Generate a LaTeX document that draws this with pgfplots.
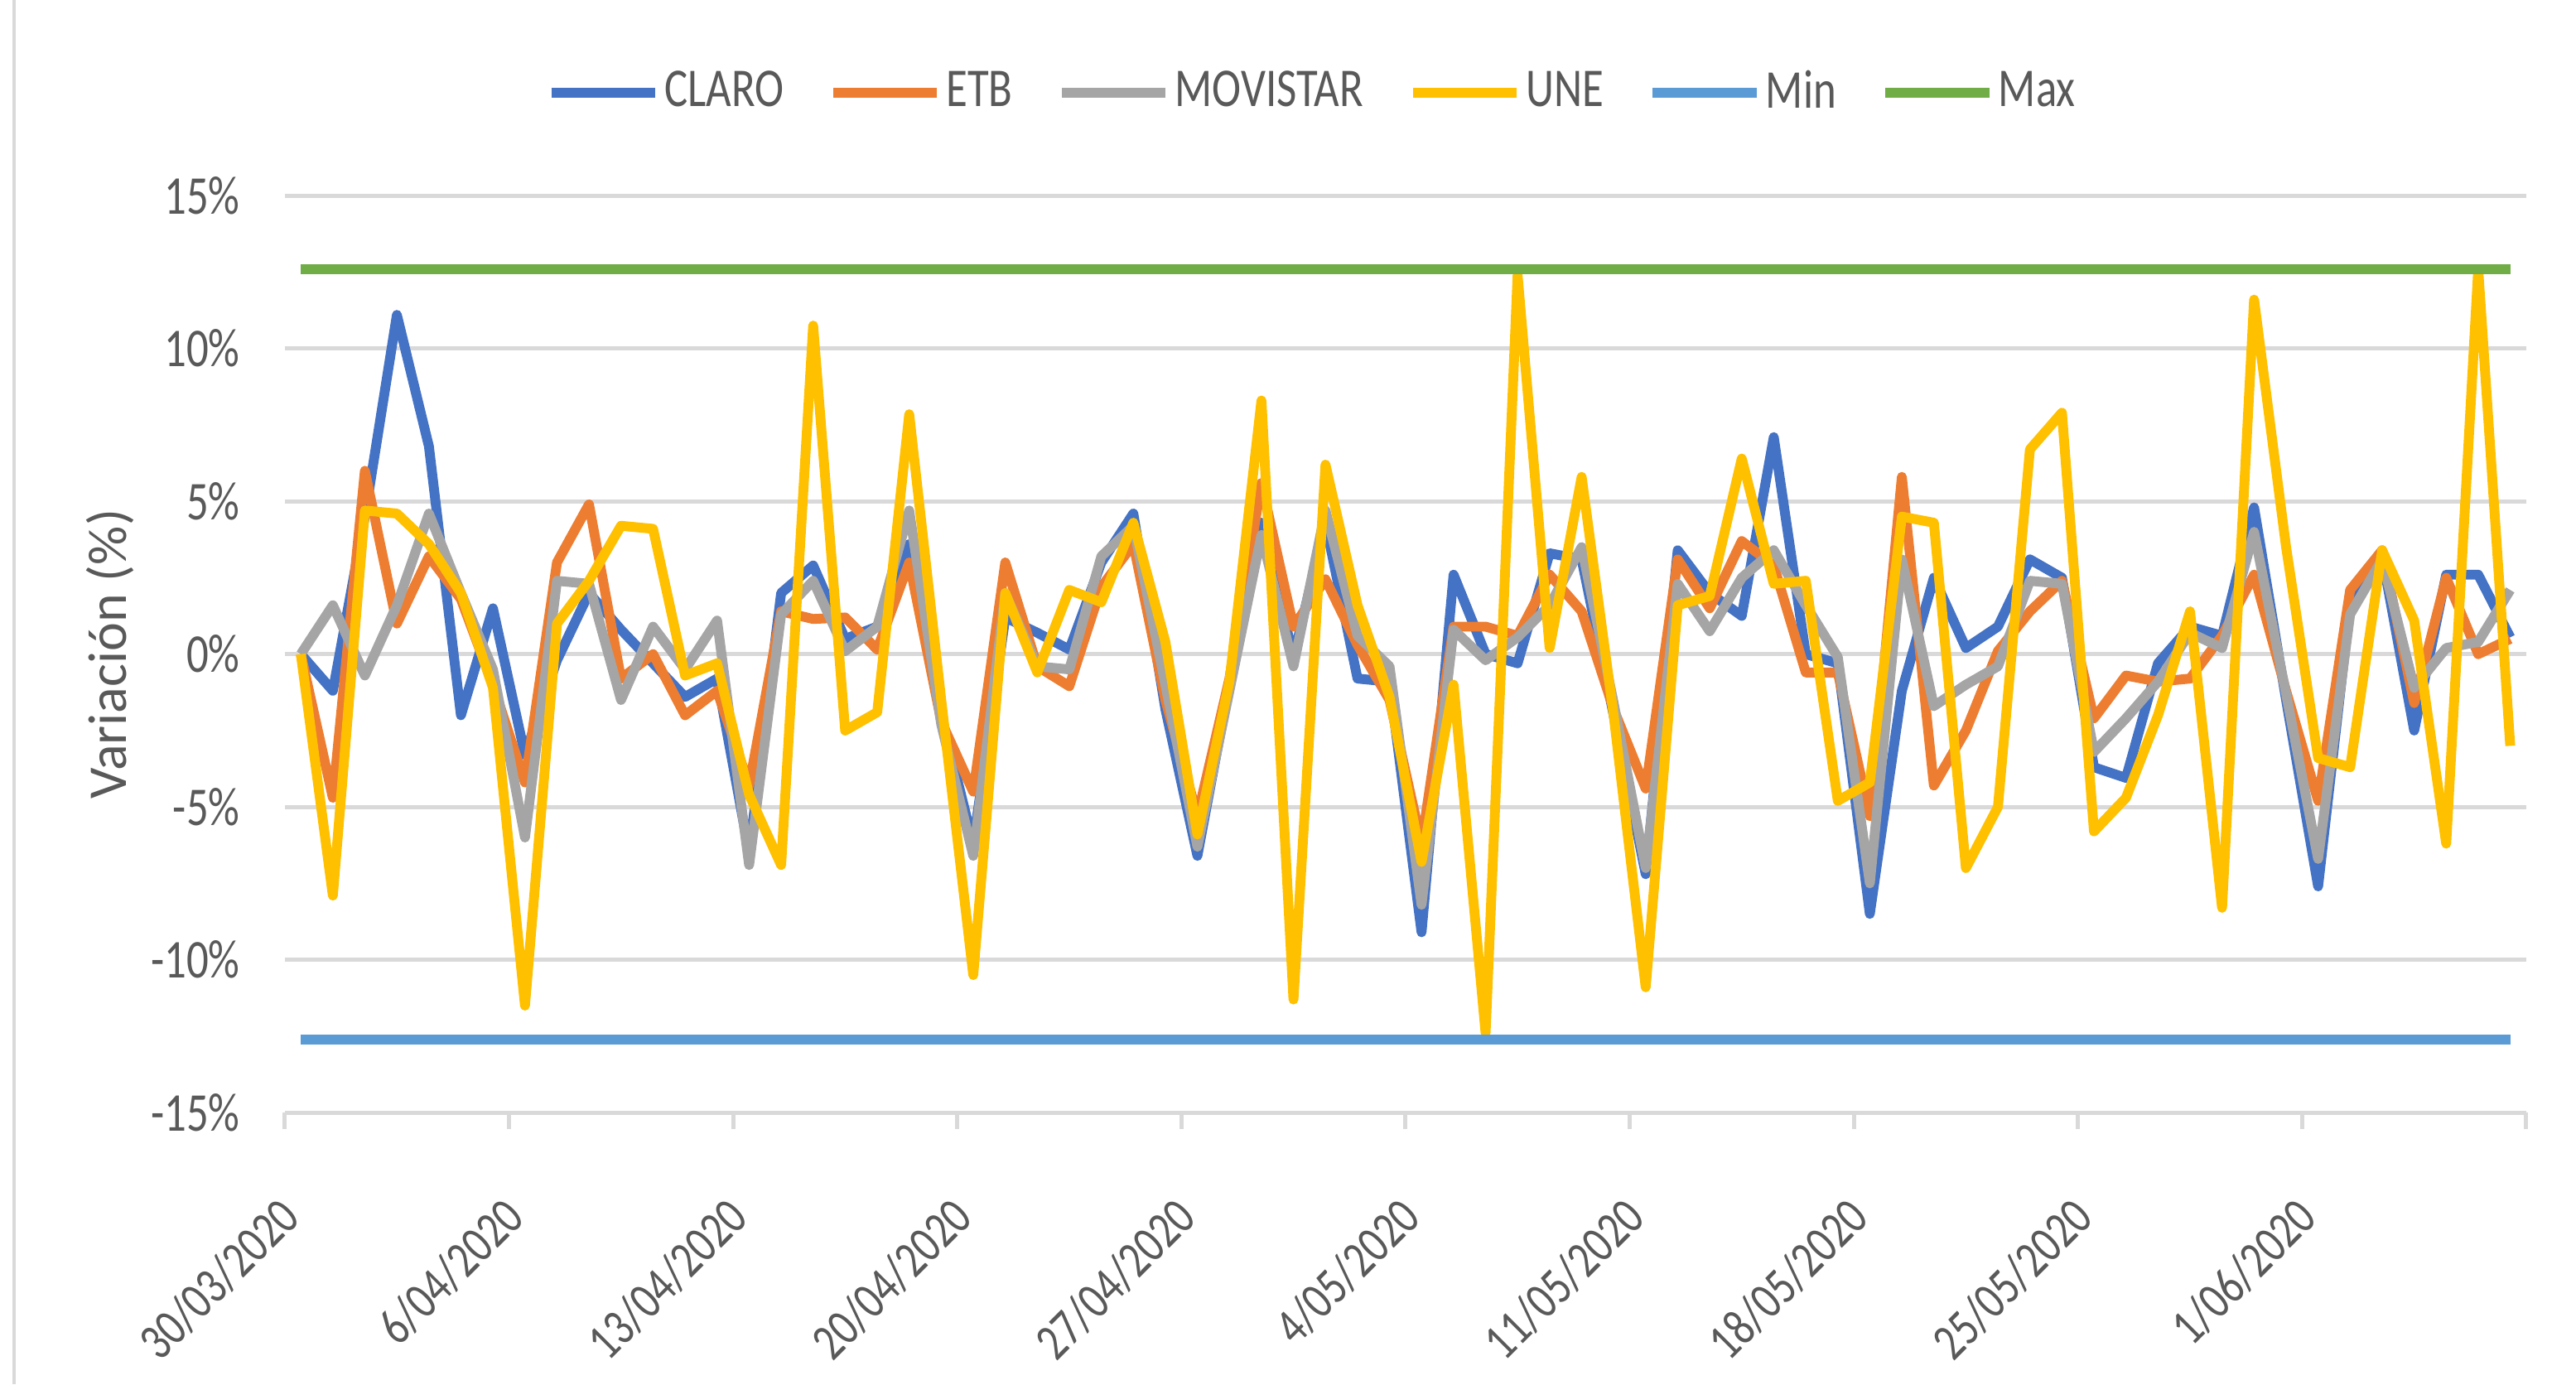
\documentclass[border=0pt]{standalone}
\usepackage{fontspec}
\setmainfont{Carlito}[FakeStretch=0.8]
\newfontfamily\ylabfont{Carlito}
\usepackage{pgfplots}
\usepackage{pgfplotstable}
\pgfplotsset{compat=1.18}
\definecolor{claro}{HTML}{4472C4}
\definecolor{etb}{HTML}{ED7D31}
\definecolor{movistar}{HTML}{A5A5A5}
\definecolor{une}{HTML}{FFC000}
\definecolor{minc}{HTML}{5B9BD5}
\definecolor{maxc}{HTML}{70AD47}
\definecolor{txt}{HTML}{595959}
\definecolor{gridc}{HTML}{D9D9D9}

\pgfplotstableread{
x claro etb mov une mn mx
0.5 0 0 0 0 -12.6 12.6
1.5 -1.2 -4.7 1.6 -7.9 -12.6 12.6
2.5 4.5 6.0 -0.7 4.7 -12.6 12.6
3.5 11.1 1.0 1.6 4.6 -12.6 12.6
4.5 6.8 3.2 4.6 3.6 -12.6 12.6
5.5 -2.0 1.8 2.0 2.0 -12.6 12.6
6.5 1.5 -1.0 -0.5 -1.1 -12.6 12.6
7.5 -3.3 -4.2 -6.0 -11.5 -12.6 12.6
8.5 -0.2 3.0 2.4 1.0 -12.6 12.6
9.5 2.0 4.9 2.3 2.4 -12.6 12.6
10.5 0.8 -0.8 -1.5 4.2 -12.6 12.6
11.5 -0.3 0.0 0.9 4.1 -12.6 12.6
12.5 -1.4 -2.0 -0.5 -0.7 -12.6 12.6
13.5 -0.8 -1.2 1.1 -0.3 -12.6 12.6
14.5 -6.5 -4.3 -6.9 -4.6 -12.6 12.6
15.5 2.0 1.4 1.3 -6.9 -12.6 12.6
16.5 2.9 1.15 2.4 10.75 -12.6 12.6
17.5 0.5 1.2 0.1 -2.5 -12.6 12.6
18.5 0.9 0.15 0.9 -1.9 -12.6 12.6
19.5 3.6 3.0 4.7 7.85 -12.6 12.6
20.5 -2.0 -2.2 -2.3 -1.5 -12.6 12.6
21.5 -6.2 -4.5 -6.6 -10.5 -12.6 12.6
22.5 1.2 3.0 2.0 2.0 -12.6 12.6
23.5 0.7 -0.4 -0.4 -0.6 -12.6 12.6
24.5 0.15 -1.05 -0.5 2.1 -12.6 12.6
25.5 3.0 2.2 3.2 1.7 -12.6 12.6
26.5 4.6 3.6 4.2 4.3 -12.6 12.6
27.5 -1.8 -1.5 -1.0 0.4 -12.6 12.6
28.5 -6.6 -5.3 -6.3 -5.9 -12.6 12.6
29.5 -1.0 -0.8 -1.2 -0.9 -12.6 12.6
30.5 4.3 5.6 3.9 8.3 -12.6 12.6
31.5 -0.1 0.9 -0.4 -11.3 -12.6 12.6
32.5 4.3 2.45 4.7 6.2 -12.6 12.6
33.5 -0.8 0.3 0.6 1.6 -12.6 12.6
34.5 -0.9 -1.5 -0.4 -1.4 -12.6 12.6
35.5 -9.1 -6.2 -8.2 -6.8 -12.6 12.6
36.5 2.6 0.9 0.8 -1.0 -12.6 12.6
37.5 0.0 0.9 -0.2 -12.4 -12.6 12.6
38.5 -0.3 0.6 0.55 12.4 -12.6 12.6
39.5 3.3 2.6 1.6 0.2 -12.6 12.6
40.5 3.1 1.4 3.5 5.8 -12.6 12.6
41.5 -2.0 -1.8 -1.6 -2.0 -12.6 12.6
42.5 -7.2 -4.4 -7.0 -10.9 -12.6 12.6
43.5 3.4 3.1 2.3 1.6 -12.6 12.6
44.5 2.0 1.5 0.75 1.9 -12.6 12.6
45.5 1.25 3.7 2.5 6.4 -12.6 12.6
46.5 7.1 2.9 3.4 2.3 -12.6 12.6
47.5 0.0 -0.6 1.6 2.4 -12.6 12.6
48.5 -0.3 -0.6 -0.1 -4.8 -12.6 12.6
49.5 -8.5 -5.3 -7.5 -4.2 -12.6 12.6
50.5 -1.2 5.8 3.1 4.5 -12.6 12.6
51.5 2.5 -4.3 -1.7 4.3 -12.6 12.6
52.5 0.2 -2.5 -1.0 -7.0 -12.6 12.6
53.5 0.9 0.1 -0.4 -5.0 -12.6 12.6
54.5 3.1 1.4 2.4 6.7 -12.6 12.6
55.5 2.5 2.4 2.3 7.9 -12.6 12.6
56.5 -3.7 -2.1 -3.2 -5.8 -12.6 12.6
57.5 -4.05 -0.7 -2.1 -4.7 -12.6 12.6
58.5 -0.3 -0.9 -0.9 -2.0 -12.6 12.6
59.5 0.9 -0.8 0.7 1.4 -12.6 12.6
60.5 0.6 0.6 0.2 -8.3 -12.6 12.6
61.5 4.8 2.6 4.0 11.6 -12.6 12.6
62.5 -1.5 -1.2 -1.3 3.5 -12.6 12.6
63.5 -7.6 -4.8 -6.7 -3.4 -12.6 12.6
64.5 1.6 2.1 1.3 -3.7 -12.6 12.6
65.5 3.2 3.4 3.1 3.4 -12.6 12.6
66.5 -2.5 -1.6 -1.1 1.1 -12.6 12.6
67.5 2.6 2.5 0.2 -6.2 -12.6 12.6
68.5 2.6 0.0 0.4 12.6 -12.6 12.6
69.5 0.55 0.5 2.1 -3.0 -12.6 12.6
}\datatable

\begin{document}
\begin{tikzpicture}
\useasboundingbox (0,0) rectangle (471.2pt,253.2pt);
\draw[gridc, line width=0.6pt] (2.6pt,0pt) -- (2.6pt,253.2pt);
\begin{axis}[
  at={(52.1pt,49.7pt)}, anchor=south west,
  width=410pt, height=167.7pt, scale only axis,
  xmin=0, xmax=70, ymin=-15, ymax=15,
  axis x line*=bottom, axis y line*=left,
  x axis line style={draw=gridc, line width=0.75pt},
  y axis line style={draw=none},
  xtick={0.5,7.5,14.5,21.5,28.5,35.5,42.5,49.5,56.5,63.5},
  xticklabels={30/03/2020,6/04/2020,13/04/2020,20/04/2020,27/04/2020,4/05/2020,11/05/2020,18/05/2020,25/05/2020,1/06/2020},
  minor xtick={0,7,...,70},
  ytick={-15,-10,...,15},
  yticklabels={-15\%,-10\%,-5\%,0\%,5\%,10\%,15\%},
  major tick length=0pt, minor tick length=3pt, tick align=outside,
  major x tick style={draw=none},
  minor x tick style={draw=gridc, line width=0.75pt},
  ytick style={draw=none},
  ymajorgrids,
  major grid style={draw=gridc, line width=0.75pt},
  xticklabel style={font=\fontsize{9.5}{11}\selectfont, text=txt, xshift=0.5pt, yshift=-15pt, rotate=45, anchor=east},
  yticklabel style={font=\fontsize{10}{12}\selectfont, text=txt, xshift=-4.7pt},
  ylabel={\ylabfont\fontsize{10}{12}\selectfont Variación (\%)},
  every axis y label/.style={at={(axis description cs:-0.0778,0.5)}, rotate=90, anchor=center, text=txt},
  legend columns=-1,
  legend style={at={(0.4588,1.112)}, anchor=center, draw=none, fill=none,
    font=\fontsize{10}{12}\selectfont, text=txt,
    nodes={inner sep=0.8pt},
    /tikz/every even column/.append style={column sep=7.3pt}},
  legend image code/.code={\draw[#1] (0pt,0pt) -- (19pt,0pt);},
  every axis plot/.append style={line width=1.8pt, line join=round, no markers},
]
\addplot[claro] table[x=x, y=claro] {\datatable};
\addlegendentry{CLARO}
\addplot[etb] table[x=x, y=etb] {\datatable};
\addlegendentry{ETB}
\addplot[movistar] table[x=x, y=mov] {\datatable};
\addlegendentry{MOVISTAR}
\addplot[une] table[x=x, y=une] {\datatable};
\addlegendentry{UNE}
\addplot[minc] table[x=x, y=mn] {\datatable};
\addlegendentry{Min}
\addplot[maxc] table[x=x, y=mx] {\datatable};
\addlegendentry{Max}
\end{axis}
\end{tikzpicture}
\end{document}
